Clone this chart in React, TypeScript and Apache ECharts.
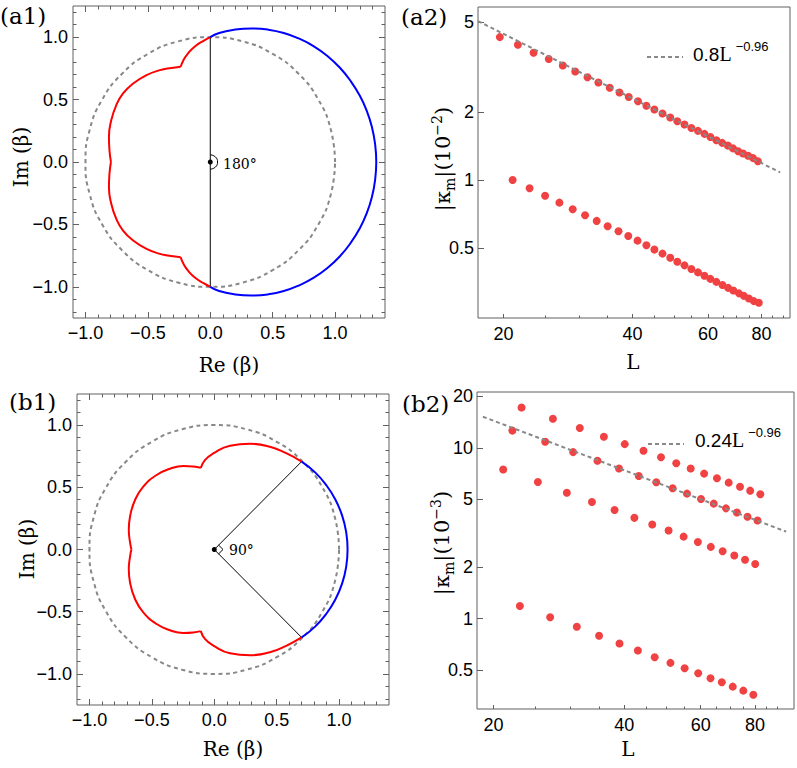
import React, { useEffect, useRef } from "react";
import * as echarts from "echarts";

// ---------------- data ----------------
const unitCircle: number[][] = [
  [1, 0], [0.966, 0.259], [0.866, 0.5], [0.707, 0.707], [0.5, 0.866], [0.259, 0.966],
  [0, 1], [-0.259, 0.966], [-0.5, 0.866], [-0.707, 0.707], [-0.866, 0.5], [-0.966, 0.259],
  [-1, 0], [-0.966, -0.259], [-0.866, -0.5], [-0.707, -0.707], [-0.5, -0.866], [-0.259, -0.966],
  [0, -1], [0.259, -0.966], [0.5, -0.866], [0.707, -0.707], [0.866, -0.5], [0.966, -0.259], [1, 0],
];

// (a1) red curve, split at its cusps
const a1RedTopSmall = [[0, 1], [-0.054, 0.971], [-0.121, 0.928], [-0.175, 0.875], [-0.215, 0.816], [-0.237, 0.763]];
const a1RedTopBig = [[-0.237, 0.763], [-0.296, 0.756], [-0.344, 0.749], [-0.403, 0.736], [-0.511, 0.696], [-0.618, 0.629], [-0.699, 0.549], [-0.753, 0.456], [-0.793, 0.336], [-0.812, 0.203], [-0.808, 0.096], [-0.796, 0]];
const a1RedBottomBig = [[-0.796, 0], [-0.808, -0.096], [-0.812, -0.203], [-0.793, -0.336], [-0.753, -0.456], [-0.699, -0.549], [-0.618, -0.629], [-0.511, -0.696], [-0.403, -0.736], [-0.344, -0.749], [-0.296, -0.756], [-0.237, -0.763]];
const a1RedBottomSmall = [[-0.237, -0.763], [-0.215, -0.816], [-0.175, -0.875], [-0.121, -0.928], [-0.054, -0.971], [0, -1]];
const a1Blue = [
  [0, 1], [0.071, 1.034], [0.2, 1.061], [0.33, 1.07], [0.461, 1.061], [0.589, 1.034], [0.713, 0.988],
  [0.83, 0.927], [0.939, 0.849], [1.037, 0.757], [1.123, 0.651], [1.196, 0.535], [1.254, 0.41],
  [1.296, 0.277], [1.321, 0.14], [1.33, 0],
  [1.321, -0.14], [1.296, -0.277], [1.254, -0.41], [1.196, -0.535], [1.123, -0.651], [1.037, -0.757],
  [0.939, -0.849], [0.83, -0.927], [0.713, -0.988], [0.589, -1.034], [0.461, -1.061], [0.33, -1.07],
  [0.2, -1.061], [0.071, -1.034], [0, -1],
];
const a1Chord = [[0, 1], [0, -1]];
const a1AngleMark = [[0, 0.058], [0.041, 0.041], [0.058, 0], [0.041, -0.041], [0, -0.058]];

// (b1) red curve, split at its cusps
const b1RedTopRight = [[0.7, 0.707], [0.58, 0.772], [0.446, 0.826], [0.286, 0.85], [0.126, 0.834], [-0.008, 0.772], [-0.075, 0.719], [-0.108, 0.656]];
const b1RedTopLeft = [[-0.108, 0.656], [-0.168, 0.667], [-0.248, 0.671], [-0.355, 0.649], [-0.462, 0.599], [-0.569, 0.505], [-0.635, 0.398], [-0.675, 0.265], [-0.685, 0.158], [-0.674, 0.051], [-0.664, 0]];
const b1RedBottomLeft = [[-0.664, 0], [-0.674, -0.051], [-0.685, -0.158], [-0.675, -0.265], [-0.635, -0.398], [-0.569, -0.505], [-0.462, -0.599], [-0.355, -0.649], [-0.248, -0.671], [-0.168, -0.667], [-0.108, -0.656]];
const b1RedBottomRight = [[-0.108, -0.656], [-0.075, -0.719], [-0.008, -0.772], [0.126, -0.834], [0.286, -0.85], [0.446, -0.826], [0.58, -0.772], [0.7, -0.707]];
const b1Blue = [
  [0.7, 0.707], [0.808, 0.62], [0.897, 0.518], [0.97, 0.402], [1.024, 0.274], [1.057, 0.139], [1.068, 0],
  [1.057, -0.139], [1.024, -0.274], [0.97, -0.402], [0.897, -0.518], [0.808, -0.62], [0.7, -0.707],
];
const b1Rays = [[0.7, 0.707], [0, 0], [0.7, -0.707]];
const b1AngleMark = [[0.035, 0.035], [0.07, 0], [0.035, -0.035]];
const origin = [[0, 0]];

// (a2)
const a2UpperL = [19.6, 21.6, 23.5, 25.5, 27.5, 29.4, 31.4, 33.3, 35.4, 37.3, 39.2, 41.2, 43.1, 45.0, 47.0, 49.0, 50.9, 52.9, 54.9, 56.9, 58.9, 60.8, 62.8, 64.8, 66.8, 68.7, 70.6, 72.5, 74.5, 76.5, 78.5];
const a2UpperK = [4.29, 3.97, 3.66, 3.43, 3.21, 3.02, 2.85, 2.7, 2.56, 2.44, 2.33, 2.23, 2.13, 2.05, 1.97, 1.89, 1.82, 1.76, 1.7, 1.65, 1.6, 1.55, 1.5, 1.46, 1.42, 1.38, 1.34, 1.31, 1.28, 1.25, 1.21];
const a2LowerL = [21.0, 23.0, 25.0, 27.0, 29.0, 31.0, 33.0, 35.0, 37.1, 39.1, 41.1, 43.1, 45.0, 47.0, 49.0, 50.9, 52.9, 54.9, 56.9, 58.9, 60.8, 62.8, 64.9, 66.9, 68.8, 70.9, 72.8, 74.8, 76.8, 78.9];
const a2LowerK = [1.0, 0.919, 0.852, 0.794, 0.742, 0.698, 0.659, 0.624, 0.593, 0.565, 0.539, 0.514, 0.492, 0.472, 0.453, 0.435, 0.419, 0.404, 0.39, 0.377, 0.365, 0.354, 0.343, 0.333, 0.324, 0.315, 0.307, 0.299, 0.291, 0.286];
const a2FitL = [17.43, 88.5];
const a2FitK = [5.05, 1.08];

// (b2)
const b2AL = [23.2, 27.4, 31.6, 35.9, 40.1, 44.3, 48.6, 52.7, 56.9, 61.1, 65.4, 69.6, 73.9, 78.0, 82.3];
const b2AK = [17.2, 14.8, 13.05, 11.6, 10.5, 9.6, 8.81, 8.12, 7.56, 7.06, 6.63, 6.25, 5.92, 5.61, 5.34];
const b2BL = [22.1, 26.3, 30.5, 34.7, 38.9, 43.2, 47.4, 51.7, 55.8, 60.1, 64.3, 68.6, 72.7, 76.9, 81.1];
const b2BK = [12.6, 10.85, 9.43, 8.39, 7.56, 6.84, 6.28, 5.79, 5.39, 5.01, 4.71, 4.42, 4.18, 3.95, 3.75];
const b2CL = [21.05, 25.3, 29.5, 33.7, 38.0, 42.2, 46.4, 50.6, 54.8, 59.1, 63.3, 67.4, 71.7, 75.9, 80.1];
const b2CK = [7.46, 6.31, 5.46, 4.81, 4.32, 3.89, 3.56, 3.28, 3.02, 2.81, 2.63, 2.48, 2.34, 2.21, 2.09];
const b2DL = [23.0, 27.0, 31.1, 35.0, 39.0, 43.0, 47.0, 51.1, 55.1, 59.2, 63.2, 67.1, 71.1, 75.2, 79.3];
const b2DK = [1.187, 1.018, 0.897, 0.794, 0.716, 0.651, 0.595, 0.551, 0.513, 0.479, 0.448, 0.424, 0.4, 0.379, 0.359];
const b2FitL = [18.9, 94.4];
const b2FitK = [15.2, 3.23];

// ticks
const circMajor = [-1, -0.5, 0, 0.5, 1];
const circMinorX = [-1, -0.9, -0.8, -0.7, -0.6, -0.5, -0.4, -0.3, -0.2, -0.1, 0, 0.1, 0.2, 0.3, 0.4, 0.5, 0.6, 0.7, 0.8, 0.9, 1, 1.1, 1.2, 1.3];
const circMinorY = [-1.2, -1.1, -1, -0.9, -0.8, -0.7, -0.6, -0.5, -0.4, -0.3, -0.2, -0.1, 0, 0.1, 0.2, 0.3, 0.4, 0.5, 0.6, 0.7, 0.8, 0.9, 1, 1.1, 1.2];
const logXMajor = [20, 40, 60, 80];
const logXMinor = [25, 30, 35, 45, 50, 55, 65, 70, 75, 85, 90];
const a2YMajor = [0.5, 1, 2, 5];
const b2YMajor = [0.5, 1, 2, 5, 10, 20];

// ---------------- styling ----------------
const SANS = "'Liberation Sans', Arial, sans-serif";
const SERIF = "'DejaVu Serif', serif";
const FRAME = "#606060";
const DOT = "#f04242";

const zip = (xs: number[], ys: number[]) => xs.map((x, i) => [x, ys[i]]);
const circFmt = (v: number) => (v < 0 ? "\u2212" : "") + Math.abs(v).toFixed(1);

function tickAxis(grid: number, type: string, min: number, max: number, position: string,
  values: number[], length: number, labels: boolean, fmt?: (v: number) => string, margin = 6) {
  return {
    gridIndex: grid, type, min, max, position,
    axisLine: { show: false, onZero: false },
    splitLine: { show: false },
    minorTick: { show: false },
    axisTick: { show: true, inside: true, length, customValues: values, lineStyle: { color: FRAME, width: 1 } },
    axisLabel: labels
      ? { show: true, customValues: values, formatter: fmt, margin, fontFamily: SANS, fontSize: 18, color: "#000" }
      : { show: false },
  };
}

function buildOption() {
  const xAxes: any[] = [];
  const yAxes: any[] = [];
  const series: any[] = [];

  const grids = [
    { left: 73, top: 6, width: 312, height: 312 },
    { left: 478, top: 7, width: 312, height: 311 },
    { left: 77, top: 394, width: 312, height: 311 },
    { left: 477, top: 392, width: 317, height: 317 },
  ].map((g) => ({ ...g, show: true, borderColor: FRAME, borderWidth: 1, containLabel: false, outerBoundsMode: "none" }));

  // circle panels (grid 0, 2)
  const circIdx: Record<number, [number, number]> = {};
  for (const g of [0, 2]) {
    const xi = xAxes.length;
    xAxes.push(tickAxis(g, "value", -1.1, 1.4, "bottom", circMajor, 6, true, circFmt, 6));
    xAxes.push(tickAxis(g, "value", -1.1, 1.4, "bottom", circMinorX, 3.5, false));
    xAxes.push(tickAxis(g, "value", -1.1, 1.4, "top", circMajor, 6, false));
    xAxes.push(tickAxis(g, "value", -1.1, 1.4, "top", circMinorX, 3.5, false));
    const yi = yAxes.length;
    yAxes.push(tickAxis(g, "value", -1.25, 1.25, "left", circMajor, 6, true, circFmt, 5));
    yAxes.push(tickAxis(g, "value", -1.25, 1.25, "left", circMinorY, 3.5, false));
    yAxes.push(tickAxis(g, "value", -1.25, 1.25, "right", circMajor, 6, false));
    yAxes.push(tickAxis(g, "value", -1.25, 1.25, "right", circMinorY, 3.5, false));
    circIdx[g] = [xi, yi];
  }
  // log panels (grid 1, 3)
  const logIdx: Record<number, [number, number]> = {};
  const logRanges: Record<number, number[]> = { 1: [17.43, 93.3, 0.245, 5.83], 3: [18.32, 98.4, 0.296, 21.2] };
  for (const g of [1, 3]) {
    const [x0, x1, y0, y1] = logRanges[g];
    const xi = xAxes.length;
    xAxes.push(tickAxis(g, "log", x0, x1, "bottom", logXMajor, 4, true, (v: number) => String(Math.round(v)), 7));
    xAxes.push(tickAxis(g, "log", x0, x1, "bottom", logXMinor, 2.5, false));
    const yi = yAxes.length;
    yAxes.push(tickAxis(g, "log", y0, y1, "left", g === 1 ? a2YMajor : b2YMajor, 6, true, (v: number) => String(v), 4));
    logIdx[g] = [xi, yi];
  }

  const line = (g: [number, number], data: number[][], color: string, width: number, extra: any = {}) =>
    series.push({
      type: "line", xAxisIndex: g[0], yAxisIndex: g[1], data, showSymbol: false, symbol: "none",
      lineStyle: { color, width, ...(extra.lineStyle || {}) }, smooth: extra.smooth ?? false,
      z: extra.z ?? 3, silent: true, animation: false,
    });
  const dots = (g: [number, number], data: number[][], size: number, color: string) =>
    series.push({
      type: "scatter", xAxisIndex: g[0], yAxisIndex: g[1], data, symbolSize: size,
      itemStyle: { color, opacity: 1 }, z: 5, silent: true, animation: false,
    });

  const dashed = { lineStyle: { type: [4, 3.5] }, smooth: 0.5, z: 2 };
  // (a1)
  const A1 = circIdx[0];
  line(A1, unitCircle, "#888888", 2, dashed);
  line(A1, a1Chord, "#000", 1);
  for (const seg of [a1RedTopSmall, a1RedTopBig, a1RedBottomBig, a1RedBottomSmall]) line(A1, seg, "#ff0000", 2, { smooth: 0.5 });
  line(A1, a1Blue, "#0000ff", 2, { smooth: 0.5 });
  line(A1, a1AngleMark, "#000", 1, { smooth: 0.5 });
  dots(A1, origin, 5, "#000");
  // (b1)
  const B1 = circIdx[2];
  line(B1, unitCircle, "#888888", 2, dashed);
  line(B1, b1Rays, "#000", 1);
  for (const seg of [b1RedTopRight, b1RedTopLeft, b1RedBottomLeft, b1RedBottomRight]) line(B1, seg, "#ff0000", 2, { smooth: 0.5 });
  line(B1, b1Blue, "#0000ff", 2, { smooth: 0.5 });
  line(B1, b1AngleMark, "#000", 1);
  dots(B1, origin, 5, "#000");
  // (a2)
  const A2 = logIdx[1];
  line(A2, zip(a2FitL, a2FitK), "#888888", 2, { lineStyle: { type: [4, 3] }, z: 6 });
  dots(A2, zip(a2UpperL, a2UpperK), 8, DOT);
  dots(A2, zip(a2LowerL, a2LowerK), 8, DOT);
  // (b2)
  const B2 = logIdx[3];
  line(B2, zip(b2FitL, b2FitK), "#888888", 2, { lineStyle: { type: [4, 3] }, z: 6 });
  dots(B2, zip(b2AL, b2AK), 8, DOT);
  dots(B2, zip(b2BL, b2BK), 8, DOT);
  dots(B2, zip(b2CL, b2CK), 8, DOT);
  dots(B2, zip(b2DL, b2DK), 8, DOT);

  const txt = (x: number, y: number, text: string, size: number, family = SERIF, align = "center", extra: any = {}) => ({
    type: "text", x, y, silent: true, z: 100, ...extra,
    style: { text, fontSize: size, fontFamily: family, fill: "#000", align, verticalAlign: "middle", ...(extra.style || {}) },
  });
  const kappaRich = {
    n: { fontFamily: SERIF, fontSize: 21, lineHeight: 27, verticalAlign: "middle" },
    m: { fontFamily: SERIF, fontSize: 14, lineHeight: 14, verticalAlign: "bottom" },
    s: { fontFamily: SERIF, fontSize: 14, lineHeight: 14, verticalAlign: "top" },
  };
  const legRich = {
    n: { fontFamily: SANS, fontSize: 19, lineHeight: 24, verticalAlign: "bottom" },
    l: { fontFamily: "'Liberation Serif', serif", fontSize: 20, lineHeight: 24, verticalAlign: "bottom" },
    s: { fontFamily: SANS, fontSize: 13, lineHeight: 14, verticalAlign: "top", padding: [0, 0, 0, 4] },
  };
  const graphic: any[] = [
    txt(0, 16, "(a1)", 23, SERIF, "left"),
    txt(401, 17, "(a2)", 23, SERIF, "left"),
    txt(9, 402, "(b1)", 23, SERIF, "left"),
    txt(402, 404, "(b2)", 23, SERIF, "left"),
    txt(229, 365, "Re (\u03b2)", 20),
    txt(233, 749, "Re (\u03b2)", 20),
    txt(21, 157, "Im (\u03b2)", 20, SERIF, "center", { rotation: Math.PI / 2 }),
    txt(27, 549, "Im (\u03b2)", 20, SERIF, "center", { rotation: Math.PI / 2 }),
    txt(633, 362, "L", 20),
    txt(628, 749, "L", 20),
    txt(223, 164, "180\u00b0", 14, SERIF, "left"),
    txt(229, 550, "90\u00b0", 14, SERIF, "left"),
    {
      type: "text", x: 443, y: 159, rotation: Math.PI / 2, silent: true, z: 100,
      style: { text: "{n||\u03ba}{m|m}{n||(10}{s|\u22122}{n|)}", rich: kappaRich, align: "center", verticalAlign: "middle", fill: "#000" },
    },
    {
      type: "text", x: 442, y: 543, rotation: Math.PI / 2, silent: true, z: 100,
      style: { text: "{n||\u03ba}{m|m}{n||(10}{s|\u22123}{n|)}", rich: kappaRich, align: "center", verticalAlign: "middle", fill: "#000" },
    },
    { type: "line", silent: true, z: 100, shape: { x1: 647, y1: 57, x2: 683, y2: 57 }, style: { stroke: "#888", lineWidth: 2, lineDash: [4, 3] } },
    { type: "text", x: 693, y: 52, silent: true, z: 100, style: { text: "{n|0.8}{l|L}{s|\u22120.96}", rich: legRich, align: "left", verticalAlign: "middle", fill: "#000" } },
    { type: "line", silent: true, z: 100, shape: { x1: 648, y1: 444, x2: 684, y2: 444 }, style: { stroke: "#888", lineWidth: 2, lineDash: [4, 3] } },
    { type: "text", x: 695, y: 438, silent: true, z: 100, style: { text: "{n|0.24}{l|L}{s|\u22120.96}", rich: legRich, align: "left", verticalAlign: "middle", fill: "#000" } },
  ];

  return { animation: false, backgroundColor: "#fff", grid: grids, xAxis: xAxes, yAxis: yAxes, series, graphic };
}

export default function App() {
  const ref = useRef<HTMLDivElement>(null);
  useEffect(() => {
    document.body.style.margin = "0";
    if (!ref.current) return;
    const chart = echarts.init(ref.current, undefined, { renderer: "svg" });
    chart.setOption(buildOption() as any);
    return () => chart.dispose();
  }, []);
  return <div ref={ref} style={{ width: 797, height: 768 }} />;
}
